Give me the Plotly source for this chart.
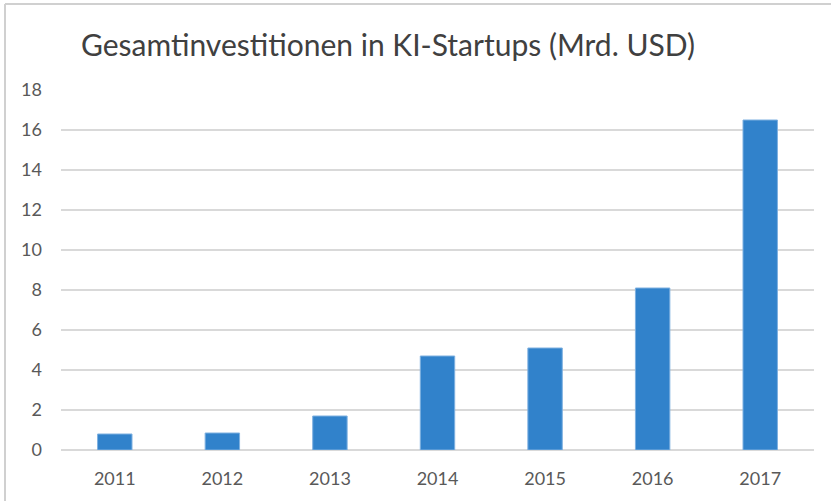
import plotly.graph_objects as go

years = ["2011", "2012", "2013", "2014", "2015", "2016", "2017"]
investments = [0.8, 0.85, 1.7, 4.7, 5.1, 8.1, 16.5]
y_ticks = [0, 2, 4, 6, 8, 10, 12, 14, 16, 18]
title_text = "Gesamtinvestitionen in KI-Startups (Mrd. USD)"

W, H = 831, 501
L, R, T, B = 61, 17, 90, 51
pw, ph = W - L - R, H - T - B

fig = go.Figure(go.Bar(
    x=years, y=investments,
    marker=dict(color="#3182CB", line=dict(color="#7EB0E0", width=1)),
    width=0.32,
))

def px_to_paper_x(px):
    return (px - L) / pw

def px_to_paper_y(py):
    return (H - B - py) / ph

fig.update_layout(
    width=W, height=H,
    margin=dict(l=L, r=R, t=T, b=B),
    paper_bgcolor="white", plot_bgcolor="white",
    font=dict(family="Lato, Open Sans, sans-serif", color="#595959", size=18),
    title=dict(text=title_text, x=81 / W, xanchor="left", xref="container",
               y=1 - 45 / H, yanchor="middle", yref="container",
               font=dict(size=30, color="#404040", family="Lato, Open Sans, sans-serif")),
    showlegend=False,
    shapes=[
        dict(type="line", xref="paper", yref="paper",
             x0=px_to_paper_x(5), x1=px_to_paper_x(5), y0=px_to_paper_y(4), y1=px_to_paper_y(510),
             line=dict(color="#D0D0D0", width=2)),
        dict(type="line", xref="paper", yref="paper",
             x0=px_to_paper_x(5), x1=px_to_paper_x(840), y0=px_to_paper_y(4), y1=px_to_paper_y(4),
             line=dict(color="#D0D0D0", width=2)),
    ],
)
fig.update_yaxes(range=[0, 18], tickvals=y_ticks, showgrid=True, gridcolor="#D9D9D9", gridwidth=1.5,
                 zeroline=True, zerolinecolor="#D9D9D9", zerolinewidth=1.5, showline=False,
                 ticklabelstandoff=18, tickfont=dict(size=18, color="#595959"))
fig.update_xaxes(showgrid=False, showline=False, ticklabelstandoff=16,
                 tickfont=dict(size=18, color="#595959"))

fig.write_html("out.html", config={"displayModeBar": False},
               post_script="document.body.style.margin='0px';document.body.style.overflow='hidden';")
